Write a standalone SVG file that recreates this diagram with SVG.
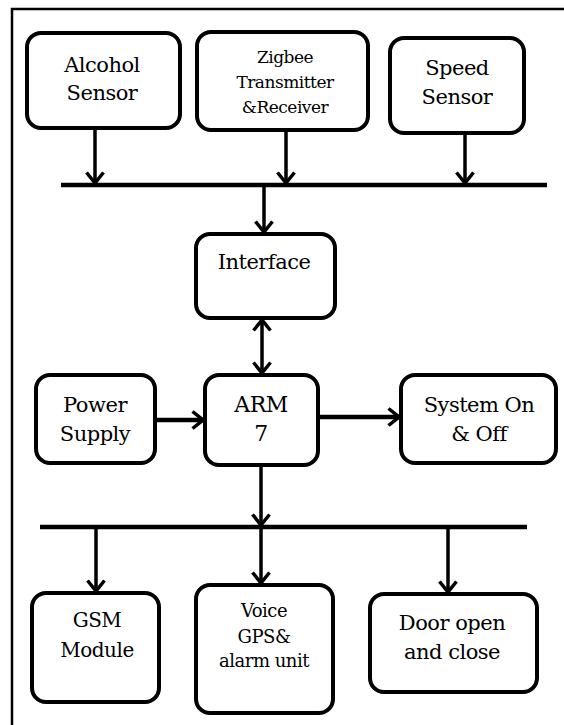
<svg xmlns="http://www.w3.org/2000/svg" width="564" height="725" viewBox="0 0 564 725">
  <style>
    .box { fill: #fff; stroke: #000; stroke-width: 4; }
    .t { fill: #000; text-anchor: middle; }
    .conn { stroke: #000; stroke-width: 3.5; fill: none; }
    .bus { stroke: #000; stroke-width: 4.5; fill: none; }
    .frame { stroke: #000; stroke-width: 2.5; fill: none; }
  </style>
  <defs>
    <marker id="arr" viewBox="0 0 14 20" refX="12" refY="10" markerWidth="14" markerHeight="20" markerUnits="userSpaceOnUse" orient="auto-start-reverse">
      <path d="M1.5,1.5 L12,10 L1.5,18.5" fill="none" stroke="#000" stroke-width="3.5" stroke-linejoin="miter"/>
    </marker>
  </defs>
  <rect width="564" height="725" fill="#fff"/>
  <g id="frame">
    <path class="frame" d="M12,725 L12,9 L564,9"/>
  </g>
  <g id="connectors">
    <line class="conn" x1="95" y1="128" x2="95" y2="183" marker-end="url(#arr)"/>
    <line class="conn" x1="286" y1="130" x2="286" y2="183" marker-end="url(#arr)"/>
    <line class="conn" x1="465" y1="133" x2="465" y2="183" marker-end="url(#arr)"/>
    <line class="bus" x1="61" y1="185" x2="547" y2="185"/>
    <line class="conn" x1="264" y1="185" x2="264" y2="232" marker-end="url(#arr)"/>
    <line class="conn" x1="262" y1="320" x2="262" y2="373" marker-start="url(#arr)" marker-end="url(#arr)"/>
    <line class="conn" style="stroke-width:4.5" x1="155" y1="420" x2="203" y2="420" marker-end="url(#arr)"/>
    <line class="conn" style="stroke-width:4.5" x1="320" y1="417" x2="399" y2="417" marker-end="url(#arr)"/>
    <line class="conn" x1="261" y1="465" x2="261" y2="525" marker-end="url(#arr)"/>
    <line class="bus" x1="40" y1="527" x2="527" y2="527"/>
    <line class="conn" x1="96" y1="527" x2="96" y2="591" marker-end="url(#arr)"/>
    <line class="conn" x1="261" y1="527" x2="261" y2="583" marker-end="url(#arr)"/>
    <line class="conn" x1="448" y1="527" x2="448" y2="592" marker-end="url(#arr)"/>
  </g>
  <g font-family="DejaVu Serif, Liberation Serif, serif" letter-spacing="-0.5">
  <g id="alcohol">
    <rect class="box" x="27" y="33" width="153" height="95" rx="14"/>
    <text class="t" x="102" y="72" font-size="21">Alcohol</text>
    <text class="t" x="102" y="100" font-size="21">Sensor</text>
  </g>
  <g id="zigbee">
    <rect class="box" x="197" y="32" width="171" height="98" rx="14"/>
    <text class="t" x="285" y="63" font-size="17">Zigbee</text>
    <text class="t" x="285" y="88" font-size="17">Transmitter</text>
    <text class="t" x="285" y="113" font-size="17">&amp;Receiver</text>
  </g>
  <g id="speed">
    <rect class="box" x="390" y="38" width="134" height="95" rx="14"/>
    <text class="t" x="457" y="75" font-size="21">Speed</text>
    <text class="t" x="457" y="104" font-size="21">Sensor</text>
  </g>
  <g id="interface">
    <rect class="box" x="196" y="234" width="139" height="84" rx="14"/>
    <text class="t" x="264" y="269" font-size="21">Interface</text>
  </g>
  <g id="power">
    <rect class="box" x="36" y="375" width="119" height="88" rx="14"/>
    <text class="t" x="95" y="412" font-size="21">Power</text>
    <text class="t" x="95" y="441" font-size="21">Supply</text>
  </g>
  <g id="arm">
    <rect class="box" x="205" y="375" width="113" height="90" rx="14"/>
    <text class="t" x="261" y="412" font-size="22">ARM</text>
    <text class="t" x="261" y="441" font-size="22">7</text>
  </g>
  <g id="system">
    <rect class="box" x="401" y="375" width="155" height="88" rx="14"/>
    <text class="t" x="479" y="412" font-size="21">System On</text>
    <text class="t" x="479" y="441" font-size="21">&amp; Off</text>
  </g>
  <g id="gsm">
    <rect class="box" x="32" y="593" width="127" height="109" rx="14"/>
    <text class="t" x="97" y="627" font-size="20">GSM</text>
    <text class="t" x="97" y="657" font-size="20">Module</text>
  </g>
  <g id="voice">
    <rect class="box" x="196" y="585" width="137" height="128" rx="14"/>
    <text class="t" x="264" y="617" font-size="18">Voice</text>
    <text class="t" x="264" y="643" font-size="18">GPS&amp;</text>
    <text class="t" x="264" y="667" font-size="18">alarm unit</text>
  </g>
  <g id="door">
    <rect class="box" x="370" y="594" width="167" height="98" rx="14"/>
    <text class="t" x="452" y="630" font-size="21">Door open</text>
    <text class="t" x="452" y="659" font-size="21">and close</text>
  </g>
  </g>
</svg>
